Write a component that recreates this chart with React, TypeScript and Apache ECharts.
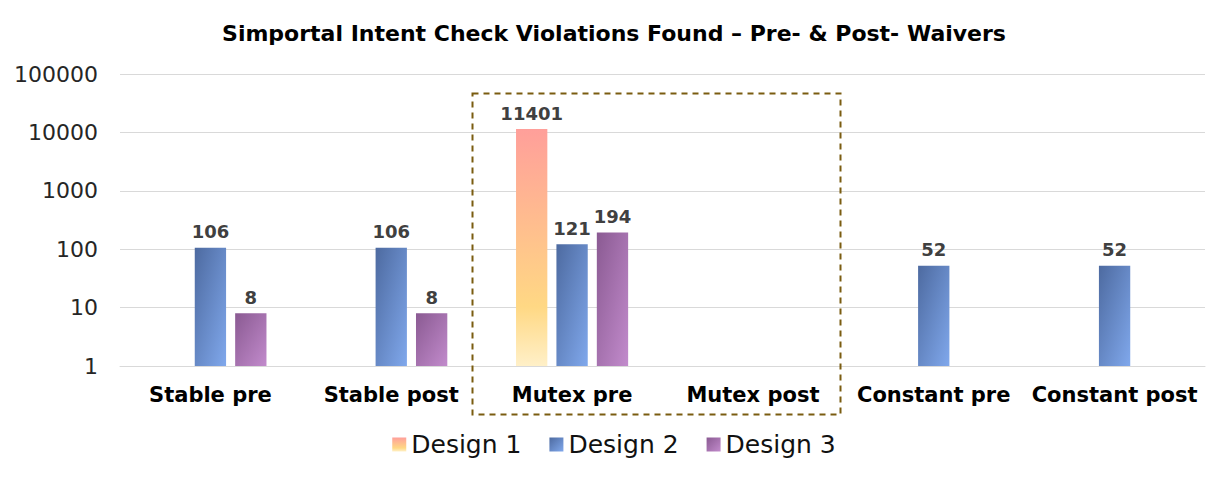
import React, { useEffect, useRef } from "react";
import * as echarts from "echarts";

const categories = ["Stable pre", "Stable post", "Mutex pre", "Mutex post", "Constant pre", "Constant post"];
const design1 = [null, null, 11401, null, null, null];
const design2 = [106, 106, 121, null, 52, 52];
const design3 = [8, 8, 194, null, null, null];
const seriesNames = ["Design 1", "Design 2", "Design 3"];

const FONT = "'DejaVu Sans', 'Open Sans', sans-serif";

const grad1 = new echarts.graphic.LinearGradient(0, 0, 0, 1, [
  { offset: 0, color: "#ff9f9a" },
  { offset: 0.75, color: "#ffd884" },
  { offset: 1, color: "#fff0c8" },
]);
const grad2 = new echarts.graphic.LinearGradient(0, 0, 1, 1, [
  { offset: 0, color: "#4d6aa0" },
  { offset: 1, color: "#80a8ec" },
]);
const grad3 = new echarts.graphic.LinearGradient(0, 0, 1, 1, [
  { offset: 0, color: "#8a5a92" },
  { offset: 1, color: "#c28bcc" },
]);

export default function App() {
  const ref = useRef<HTMLDivElement>(null);
  useEffect(() => {
    if (!ref.current) return;
    const chart = echarts.init(ref.current, null, { renderer: "svg" });
    const label = {
      show: true,
      position: "top",
      fontFamily: FONT,
      fontWeight: "bold",
      fontSize: 18,
      color: "#404040",
      distance: 7,
    };
    const mk = (name: string, data: any[], color: any) => ({
      name,
      type: "bar",
      data,
      barGap: "29%",
      barCategoryGap: "38%",
      itemStyle: { color },
      label,
    });
    chart.setOption({
      animation: false,
      title: {
        text: "Simportal Intent Check Violations Found \u2013 Pre- & Post- Waivers",
        left: "center",
        top: 17,
        textStyle: { fontFamily: FONT, fontWeight: "bold", fontSize: 22, color: "#000" },
      },
      legend: {
        data: seriesNames,
        bottom: 20,
        left: "center",
        itemWidth: 14,
        itemHeight: 14,
        itemGap: 28,
        icon: "rect",
        textStyle: { fontFamily: FONT, fontSize: 25, color: "#111" },
      },
      grid: { left: 120, right: 23, top: 74, bottom: 116 },
      xAxis: {
        type: "category",
        data: categories,
        axisLine: { show: true, lineStyle: { color: "#d9d9d9", width: 1 } },
        axisTick: { show: false },
        axisLabel: { fontFamily: FONT, fontWeight: "bold", fontSize: 21, color: "#000", margin: 18, interval: 0 },
      },
      yAxis: {
        type: "log",
        logBase: 10,
        min: 1,
        max: 100000,
        axisLine: { show: false },
        axisTick: { show: false },
        splitLine: { lineStyle: { color: "#d9d9d9", width: 1 } },
        axisLabel: {
          fontFamily: FONT,
          fontSize: 22,
          color: "#262626",
          margin: 22,
          formatter: (v: number) => String(Math.round(v)),
        },
      },
      graphic: [
        {
          type: "rect",
          left: 470,
          top: 91,
          shape: { width: 368, height: 321 },
          style: { fill: "none", stroke: "#7a5c10", lineWidth: 2, lineDash: [6, 5] },
          z: 10,
        },
      ],
      series: [mk(seriesNames[0], design1, grad1), mk(seriesNames[1], design2, grad2), mk(seriesNames[2], design3, grad3)],
    });
    return () => chart.dispose();
  }, []);
  return <div ref={ref} style={{ width: 1228, height: 482, position: "absolute", left: 0, top: 0 }} />;
}
